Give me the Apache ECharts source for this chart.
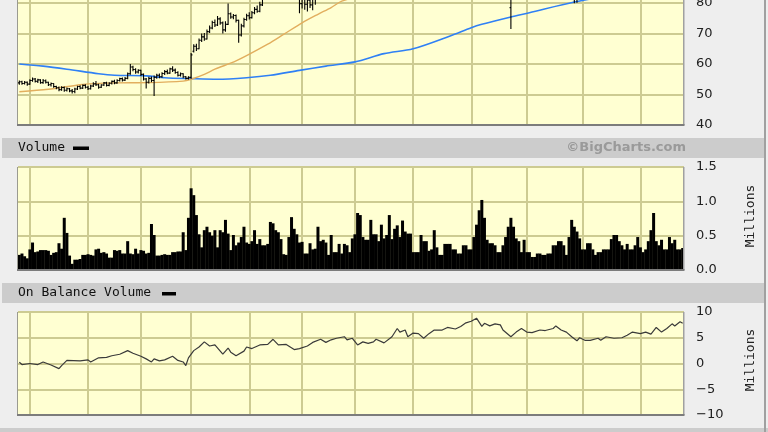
<!DOCTYPE html>
<html><head><meta charset="utf-8">
<script src="https://cdn.jsdelivr.net/npm/echarts@6/dist/echarts.min.js"></script>
<style>html,body{margin:0;padding:0;background:#eeeeee;overflow:hidden;width:768px;height:432px}#c{position:absolute;left:0;top:-100px;width:768px;height:532px}</style>
</head><body><div id="c"></div>
<script>
// ---- data ----
var dayCount = 252;
var monthStarts = [4, 26, 46, 65, 87, 107, 127, 149, 171, 192, 213, 235];
var priceTicks = [40, 50, 60, 70, 80, 90, 100, 110];
var volumeTicks = [0, 0.5, 1.0, 1.5];
var obvTicks = [-10, -5, 0, 5, 10];
// daily bars: [open, close, low, high]
var ohlc = [
[53.8,54.2,53.2,54.6],[54.2,53.6,53.2,54.5],[53.6,54.0,53.3,54.4],[54.0,53.4,52.9,54.3],[53.4,54.6,53.2,55.0],
[54.6,55.1,54.2,55.6],[55.1,54.3,53.9,55.4],[54.3,54.8,53.8,55.2],[54.8,53.9,53.5,55.0],[53.9,54.5,53.5,55.1],
[54.5,54.0,53.6,54.9],[54.0,53.2,52.8,54.2],[53.2,53.6,52.6,53.9],[53.6,52.6,52.2,53.7],[52.6,52.2,51.7,52.9],
[52.2,51.6,51.1,52.6],[51.6,52.3,51.2,52.7],[52.3,51.4,50.9,52.6],[51.4,51.9,51.0,52.3],[51.9,51.2,50.7,52.1],
[51.2,51.0,50.3,51.8],[51.0,51.8,50.4,52.2],[51.8,52.6,51.5,52.9],[52.6,52.1,51.7,53.0],[52.1,53.0,51.8,53.3],
[53.0,52.4,52.0,53.4],[52.4,51.9,51.5,52.8],[51.9,52.8,51.6,53.2],[52.8,53.5,52.5,54.0],[53.5,53.2,52.8,54.4],
[53.2,52.4,51.9,53.5],[52.4,53.1,52.1,53.4],[53.1,53.8,52.8,54.1],[53.8,53.0,52.6,54.2],[53.0,53.7,52.7,54.0],
[53.7,54.3,53.3,54.6],[54.3,53.8,53.4,54.8],[53.8,54.6,53.5,55.0],[54.6,55.2,54.3,55.5],[55.2,54.7,54.3,55.6],
[54.7,55.3,54.4,55.7],[55.3,56.8,55.0,57.2],[56.8,59.0,56.5,60.0],[59.0,58.2,57.6,59.4],[58.2,57.4,56.8,58.6],
[57.4,57.9,56.9,58.3],[57.9,56.6,56.1,58.1],[56.6,55.1,54.6,56.9],[55.1,54.0,52.0,55.4],[54.0,55.3,53.6,55.8],
[55.3,54.6,54.0,55.9],[54.6,55.6,49.5,56.2],[55.6,56.3,55.2,56.8],[56.3,55.8,55.3,56.9],[55.8,56.9,55.5,57.3],
[56.9,57.5,56.4,58.0],[57.5,57.0,56.6,58.2],[57.0,58.4,56.8,58.8],[58.4,58.0,57.4,59.3],[58.0,57.2,56.8,58.5],
[57.2,56.3,55.9,57.6],[56.3,56.8,55.9,57.2],[56.8,55.8,55.3,57.0],[55.8,55.3,54.9,56.1],[55.3,55.6,54.9,56.0],
[55.6,63.0,55.2,63.6],[64.2,65.8,63.8,66.5],[65.8,65.0,64.3,66.6],[65.0,67.8,64.8,68.4],[67.8,68.9,67.2,70.0],
[68.9,68.2,67.6,70.2],[68.2,70.6,68.0,71.3],[70.6,71.8,70.2,72.6],[71.8,73.6,71.4,74.2],[73.6,72.8,72.1,74.6],
[72.8,74.8,72.5,75.7],[74.8,73.5,72.9,75.3],[73.5,71.2,70.0,73.9],[71.2,73.0,70.6,74.0],[73.0,76.5,72.8,79.8],
[76.5,75.4,74.8,76.9],[75.4,75.9,74.7,76.4],[75.9,74.3,73.6,76.2],[74.3,69.5,67.0,74.5],[69.5,72.5,69.0,73.2],
[72.5,74.6,72.0,75.2],[74.6,75.8,74.2,76.5],[75.8,75.2,74.6,77.0],[75.2,76.8,74.9,77.4],[76.8,77.9,76.3,78.7],
[77.9,77.3,76.8,79.2],[77.3,79.4,77.0,80.4],[79.4,81.5,79.0,82.6],[81.5,83.0,81.2,83.8],[83.0,84.6,82.5,85.3],
[84.6,85.8,84.0,86.7],[85.8,88.2,85.4,89.0],[88.2,86.9,86.2,89.1],[86.9,88.4,86.5,89.3],[88.4,87.5,86.9,88.9],
[87.5,86.2,85.6,88.0],[86.2,85.0,84.3,86.5],[85.0,83.6,82.9,85.4],[83.6,81.8,81.3,84.2],[81.8,84.9,81.4,85.6],
[84.9,82.6,81.6,85.2],[82.6,79.8,76.6,83.0],[79.8,81.5,78.2,82.4],[81.5,79.6,77.8,82.0],[79.6,80.9,77.2,81.8],
[80.9,79.4,78.4,81.6],[79.4,81.2,77.6,82.0],[81.2,82.8,79.4,83.5],[82.8,83.9,82.2,84.4],[83.9,85.0,83.5,85.6],
[85.0,84.4,83.9,85.5],[84.4,85.8,84.1,86.3],[85.8,85.2,84.7,86.2],[85.2,86.6,84.9,87.2],[86.6,86.0,85.5,86.9],
[86.0,87.1,85.7,87.6],[87.1,87.9,86.8,88.5],[87.9,87.3,86.9,88.3],[87.3,88.4,87.0,88.9],[88.4,87.9,87.4,88.8],
[87.9,89.0,87.6,89.5],[89.0,88.4,88.0,89.4],[88.4,89.7,88.1,90.3],[89.7,87.6,87.0,90.1],[87.6,88.5,87.2,89.0],
[88.5,87.8,87.3,88.9],[87.8,88.9,87.5,89.4],[88.9,88.3,87.9,89.3],[88.3,89.6,88.0,90.1],[89.6,90.3,89.2,90.9],
[90.3,89.7,89.2,90.6],[89.7,90.8,89.4,91.3],[90.8,91.9,90.5,92.4],[91.9,91.2,90.7,92.2],[91.2,92.4,90.9,92.9],
[92.4,93.8,92.1,94.5],[93.8,93.1,92.6,94.2],[93.1,94.3,92.8,94.9],[94.3,95.2,93.9,95.9],[95.2,94.0,93.5,95.5],
[94.0,94.9,93.6,95.4],[94.9,93.7,93.2,95.1],[93.7,92.6,92.0,94.0],[92.6,93.5,92.2,94.0],[93.5,94.1,93.1,94.6],
[94.1,93.6,93.1,94.5],[93.6,92.9,92.4,93.9],[92.9,93.7,92.6,94.2],[93.7,92.6,92.1,94.0],[92.6,93.3,92.2,93.8],
[93.3,94.1,93.0,94.6],[94.1,94.8,93.8,95.3],[94.8,95.5,94.4,96.1],[95.5,94.9,94.4,95.8],[94.9,95.4,94.6,95.9],
[95.4,95.9,95.0,96.4],[95.9,95.2,94.8,96.2],[95.2,95.9,94.9,96.3],[95.9,95.4,95.0,96.2],[95.4,96.1,95.1,96.6],
[96.1,95.5,95.1,96.4],[95.5,96.2,95.2,96.7],[96.2,96.8,95.9,97.3],[96.8,96.2,95.8,97.1],[96.2,97.0,95.9,97.5],
[97.0,97.4,96.6,97.9],[97.4,97.9,97.0,98.4],[97.9,97.2,96.8,98.2],[97.2,98.0,96.9,98.6],[98.0,98.6,97.6,99.3],
[98.6,94.5,93.6,98.8],[94.5,95.6,94.0,96.2],[95.6,94.8,94.3,95.9],[94.8,95.4,94.4,95.9],[95.4,94.6,94.1,95.6],
[94.6,95.1,94.2,95.6],[95.1,94.5,94.0,95.4],[94.5,93.7,93.2,94.8],[93.7,92.4,91.9,94.0],[92.4,90.8,90.3,92.7],
[90.8,88.6,88.0,91.1],[78.5,86.2,71.5,87.4],[86.2,87.4,85.6,88.0],[87.4,86.6,86.1,87.9],[86.6,87.5,86.2,88.0],
[87.5,88.1,87.1,88.6],[88.1,87.4,87.0,88.5],[87.4,88.2,87.1,88.7],[88.2,88.8,87.8,89.3],[88.8,88.3,87.9,89.2],
[88.3,88.9,88.0,89.4],[88.9,89.4,88.5,89.9],[89.4,88.8,88.4,89.7],[88.8,89.3,88.5,89.8],[89.3,88.6,88.2,89.6],
[88.6,89.2,88.3,89.7],[89.2,88.5,88.1,89.5],[88.5,87.9,87.4,88.8],[87.9,87.1,86.6,88.2],[87.1,86.2,85.7,87.4],
[86.2,85.4,84.9,86.6],[85.4,85.9,85.0,86.4],[85.9,85.1,84.6,86.2],[85.1,84.3,83.8,85.5],[84.3,83.2,82.0,84.6],
[83.2,82.6,79.9,83.8],[82.6,82.9,80.1,83.5],[82.9,83.8,82.4,84.3],[83.8,84.5,83.4,85.0],[84.5,84.0,83.6,84.9],
[84.0,84.8,83.7,85.3],[84.8,84.3,83.9,85.2],[84.3,84.9,84.0,85.4],[84.9,85.4,84.6,85.9],[85.4,85.0,84.6,85.8],
[85.0,85.6,84.7,86.1],[85.6,85.2,84.8,86.0],[85.2,85.9,84.9,86.4],[85.9,86.4,85.6,86.9],[86.4,87.3,86.1,87.9],
[87.3,88.0,87.0,88.6],[88.0,87.4,86.9,88.3],[87.4,86.9,86.5,87.8],[86.9,87.5,86.6,88.0],[87.5,88.2,87.2,88.7],
[88.2,87.7,87.3,88.6],[87.7,88.3,87.4,88.8],[88.3,88.9,88.0,89.4],[88.9,88.4,88.0,89.3],[88.4,89.2,88.1,89.7],
[89.2,88.7,88.3,89.6],[88.7,89.3,88.4,89.8],[89.3,88.8,88.4,89.7],[88.8,89.6,88.5,90.1],[89.6,90.5,89.3,91.1],
[90.5,91.8,90.2,92.6],[91.8,91.0,90.5,92.1],[91.0,91.6,90.7,92.1],[91.6,92.3,91.3,92.8],[92.3,91.7,91.3,92.6],
[91.7,92.4,91.4,92.9],[92.4,93.1,92.1,93.6],[93.1,92.5,92.1,93.4],[92.5,93.2,92.2,93.7],[93.2,93.8,92.9,94.3],
[93.8,93.1,92.7,94.1],[93.1,93.6,92.8,94.1]
];
// moving averages: [day, value]
var maLong = [[0,60],[9,59.3],[18,58.3],[30,56.8],[36,56.3],[48,56.1],[55,55.5],[65,55.2],[75,55.0],[86,55.5],[95,56.3],[106,57.9],[116,59.3],[127,60.7],[138,63.4],[149,65.0],[163,69.2],[171,71.9],[175,73.0],[186,75.4],[193,76.8],[210,80.3],[230,83.5],[251,86.5]];
var maShort = [[0,50.9],[11,51.7],[24,53.3],[36,53.8],[49,53.9],[62,54.4],[65,55.0],[70,56.6],[74,58.3],[82,61.0],[94,66.5],[100,69.7],[107,73.5],[113,76.3],[118,78.5],[122,80.6],[135,84.0],[150,87.5],[170,90.5],[190,91.5],[210,90.0],[230,88.5],[251,89.5]];
// volume, millions
var volume = [
0.22,0.24,0.20,0.17,0.30,0.40,0.26,0.27,0.29,0.29,0.29,0.28,0.22,0.25,0.26,0.39,0.31,0.76,0.54,0.21,
0.09,0.15,0.15,0.16,0.22,0.22,0.23,0.22,0.21,0.30,0.31,0.25,0.26,0.24,0.18,0.18,0.29,0.28,0.29,0.24,
0.24,0.42,0.24,0.23,0.31,0.24,0.29,0.28,0.24,0.25,0.67,0.51,0.21,0.21,0.22,0.23,0.22,0.22,0.26,0.26,
0.27,0.27,0.55,0.29,0.76,1.19,1.09,0.80,0.52,0.33,0.58,0.63,0.55,0.50,0.58,0.33,0.58,0.55,0.73,0.53,
0.29,0.51,0.36,0.40,0.48,0.63,0.40,0.38,0.42,0.58,0.38,0.45,0.36,0.36,0.38,0.70,0.68,0.58,0.55,0.45,
0.23,0.22,0.48,0.77,0.60,0.52,0.40,0.41,0.24,0.24,0.39,0.30,0.31,0.63,0.42,0.44,0.40,0.22,0.51,0.26,
0.26,0.38,0.24,0.38,0.36,0.26,0.46,0.52,0.83,0.80,0.48,0.44,0.44,0.73,0.52,0.52,0.42,0.66,0.46,0.51,
0.80,0.45,0.60,0.65,0.48,0.72,0.56,0.53,0.53,0.26,0.26,0.26,0.51,0.42,0.42,0.28,0.30,0.58,0.33,0.22,
0.22,0.38,0.38,0.38,0.30,0.30,0.24,0.24,0.36,0.36,0.30,0.30,0.48,0.66,0.87,1.02,0.76,0.44,0.39,0.39,
0.36,0.26,0.26,0.36,0.48,0.63,0.76,0.63,0.46,0.42,0.26,0.44,0.26,0.26,0.19,0.19,0.24,0.24,0.22,0.22,
0.24,0.24,0.36,0.36,0.42,0.42,0.36,0.22,0.48,0.73,0.63,0.56,0.46,0.30,0.30,0.39,0.39,0.30,0.22,0.26,
0.26,0.30,0.30,0.30,0.45,0.51,0.51,0.42,0.36,0.30,0.38,0.30,0.30,0.36,0.48,0.33,0.26,0.30,0.42,0.58,
0.83,0.42,0.36,0.44,0.30,0.30,0.48,0.39,0.44,0.30,0.30,0.32
];
// on balance volume, millions: [day, value]
var obv = [[0,0.25],[1,-0.2],[4,0],[7,-0.2],[9,0.3],[12,-0.3],[15,-1.0],[16,-0.4],[18,0.6],[23,0.5],[26,0.7],[27,0.3],[30,1.1],[33,1.2],[35,1.5],[38,1.8],[41,2.5],[43,2.0],[46,1.4],[48,0.9],[50,0.3],[51,0.9],[53,0.5],[55,0.7],[58,1.4],[60,0.6],[62,0.3],[63,-0.4],[64,1.1],[66,2.5],[68,3.2],[70,4.2],[72,3.4],[74,3.6],[77,1.8],[79,3.0],[80,2.2],[82,1.5],[85,2.4],[86,3.2],[88,2.9],[91,3.6],[94,3.7],[96,4.7],[98,3.6],[101,3.7],[104,2.7],[106,2.9],[109,3.4],[111,4.1],[114,4.7],[116,4.1],[118,4.6],[120,4.9],[123,5.2],[124,4.6],[126,4.9],[128,3.6],[130,4.2],[132,3.9],[134,4.2],[135,4.7],[138,4.0],[141,5.2],[143,6.8],[144,6.1],[146,6.5],[147,5.2],[149,5.9],[151,5.8],[153,4.9],[155,5.8],[157,6.5],[160,6.5],[162,7.0],[165,6.7],[167,7.2],[169,7.9],[171,8.2],[173,8.8],[175,7.2],[176,7.8],[178,7.3],[180,7.7],[182,7.5],[183,6.5],[186,5.2],[188,6.1],[190,6.8],[192,6.1],[194,6.0],[197,6.5],[199,6.4],[202,6.8],[203,7.3],[205,6.5],[207,6.1],[209,5.2],[211,4.4],[212,5.0],[214,4.5],[216,4.5],[219,4.9],[220,4.5],[222,5.2],[225,4.9],[228,5.0],[230,5.5],[232,6.1],[235,5.8],[237,6.1],[239,5.7],[241,7.0],[243,6.1],[245,6.8],[247,7.7],[248,7.3],[250,8.1],[251,7.8]];

// ---- chart ----
var OFF = 100; // canvas is taller and shifted up so the price panel top sits above the window
var days = [];
for (var i = 0; i < dayCount; i++) days.push('D' + i);
var ohlcData = ohlc.map(function (r, i) { return [i, r[0], r[1], r[2], r[3]]; });

var gridBg = '#ffffd2';
var gridColor = '#cdcb92';
var labelFont = { fontFamily: 'DejaVu Sans', fontSize: 13, color: '#222', margin: 12 };
function xAxisFor(gi) {
  return {
    type: 'category', gridIndex: gi, data: days, boundaryGap: true,
    axisLabel: { show: false }, axisTick: { show: false },
    axisLine: { show: false }, splitLine: { show: false }
  };
}
function yAxisFor(gi, ticks, fmt) {
  return {
    type: 'value', gridIndex: gi, position: 'right',
    min: ticks[0], max: ticks[ticks.length - 1], interval: ticks[1] - ticks[0],
    axisLabel: Object.assign({ formatter: fmt }, labelFont),
    axisTick: { show: false }, axisLine: { show: false }, splitLine: { show: false }
  };
}
// grid lines drawn through the axes' own scales (month boundaries + value ticks)
function gridLinesSeries(gi, ticks, hostData) {
  var lines = ticks.slice(1).map(function (v) { return { yAxis: v }; })
    .concat(monthStarts.map(function (m) { return { xAxis: m - 0.5 }; }));
  return {
    type: 'line', xAxisIndex: gi, yAxisIndex: gi, data: hostData, z: 1, silent: true,
    symbol: 'none', lineStyle: { opacity: 0 },
    markLine: { silent: true, symbol: 'none', animation: false, label: { show: false },
      lineStyle: { color: gridColor, width: 2, type: 'solid', opacity: 1 }, emphasis: { disabled: true }, data: lines }
  };
}
var priceBottom = 125, unitPx = 30.5;
var priceTop = priceBottom - (priceTicks.length - 1) * unitPx;
var panels = [
  { top: OFF + priceTop, height: priceBottom - priceTop },
  { top: OFF + 167, height: 103 },
  { top: OFF + 312, height: 103 }
];
var plotLeft = 18, plotWidth = 666;
var monoFont = '13px "DejaVu Sans Mono"';

var graphics = [
  { type: 'rect', shape: { x: 2, y: OFF + 138, width: 762, height: 20 }, style: { fill: '#cccccc' }, z: -10 },
  { type: 'rect', shape: { x: 2, y: OFF + 283, width: 762, height: 20 }, style: { fill: '#cccccc' }, z: -10 },
  { type: 'rect', shape: { x: 0, y: OFF + 428, width: 768, height: 4 }, style: { fill: '#cccccc' }, z: -10 },
  { type: 'rect', shape: { x: 764, y: 0, width: 2, height: OFF + 432 }, style: { fill: '#a0a0a0' }, z: -10 },
  { type: 'text', x: 18, y: OFF + 148, style: { text: 'Volume', font: monoFont, fill: '#111', textVerticalAlign: 'middle' } },
  { type: 'rect', shape: { x: 73, y: OFF + 146.5, width: 16, height: 3.5 }, style: { fill: '#000' } },
  { type: 'text', x: 686, y: OFF + 148, style: { text: '\u00a9BigCharts.com', font: 'bold 13px "DejaVu Sans"', fill: '#9a9a9a', textAlign: 'right', textVerticalAlign: 'middle' } },
  { type: 'text', x: 18, y: OFF + 293, style: { text: 'On Balance Volume', font: monoFont, fill: '#111', textVerticalAlign: 'middle' } },
  { type: 'rect', shape: { x: 162, y: OFF + 292, width: 14, height: 3.5 }, style: { fill: '#000' } },
  { type: 'text', x: 751, y: OFF + 216, rotation: Math.PI / 2, style: { text: 'Millions', font: monoFont, fill: '#222', textAlign: 'center', textVerticalAlign: 'middle' } },
  { type: 'text', x: 751, y: OFF + 360, rotation: Math.PI / 2, style: { text: 'Millions', font: monoFont, fill: '#222', textAlign: 'center', textVerticalAlign: 'middle' } }
];
panels.forEach(function (p) {
  // plot background and frame (left/top light, bottom/right darker)
  graphics.push({ type: 'rect', z: -10, shape: { x: plotLeft, y: p.top, width: plotWidth, height: p.height }, style: { fill: gridBg } });
  graphics.push({ type: 'rect', z: 50, shape: { x: plotLeft - 1, y: p.top, width: 1, height: p.height + 1 }, style: { fill: '#9a9a90' } });
  graphics.push({ type: 'rect', z: 50, shape: { x: plotLeft + plotWidth - 1, y: p.top, width: 1.5, height: p.height }, style: { fill: '#a0a0a0' } });
  graphics.push({ type: 'rect', z: 50, shape: { x: plotLeft - 1, y: p.top + p.height - 1, width: plotWidth + 1.5, height: 2 }, style: { fill: '#7c7c7c' } });
});

var chart = echarts.init(document.getElementById('c'), null, { renderer: 'canvas' });
chart.setOption({
  animation: false,
  backgroundColor: '#eeeeee',
  grid: panels.map(function (p) { return { left: plotLeft, width: plotWidth, top: p.top, height: p.height, show: false }; }),
  xAxis: [xAxisFor(0), xAxisFor(1), xAxisFor(2)],
  yAxis: [
    yAxisFor(0, priceTicks, function (v) { return String(v); }),
    yAxisFor(1, volumeTicks, function (v) { return v.toFixed(1); }),
    yAxisFor(2, obvTicks, function (v) { return v < 0 ? '\u2212' + Math.abs(v) : String(v); })
  ],
  graphic: graphics,
  series: [
    gridLinesSeries(0, priceTicks, maLong),
    gridLinesSeries(1, volumeTicks, obv.map(function (p) { return [p[0], 0.1]; })),
    gridLinesSeries(2, obvTicks, obv),
    {
      type: 'line', xAxisIndex: 0, yAxisIndex: 0, data: maLong, symbol: 'none', smooth: 0.3,
      lineStyle: { color: '#2f80f5', width: 1.6 }, z: 10
    },
    {
      type: 'line', xAxisIndex: 0, yAxisIndex: 0, data: maShort, symbol: 'none', smooth: 0.3,
      lineStyle: { color: '#e2ae5e', width: 1.4 }, z: 10
    },
    {
      type: 'custom', xAxisIndex: 0, yAxisIndex: 0, data: ohlcData, clip: true, z: 11,
      encode: { x: 0, y: [1, 2, 3, 4] },
      renderItem: function (params, api) {
        var x = api.value(0);
        var o = api.coord([x, api.value(1)]);
        var c = api.coord([x, api.value(2)]);
        var l = api.coord([x, api.value(3)]);
        var h = api.coord([x, api.value(4)]);
        var half = api.size([1, 0])[0] * 0.5;
        var st = { stroke: '#000', lineWidth: 1.1 };
        return { type: 'group', children: [
          { type: 'line', shape: { x1: l[0], y1: l[1], x2: h[0], y2: h[1] }, style: st },
          { type: 'line', shape: { x1: o[0] - half, y1: o[1], x2: o[0], y2: o[1] }, style: st },
          { type: 'line', shape: { x1: c[0], y1: c[1], x2: c[0] + half, y2: c[1] }, style: st }
        ]};
      }
    },
    {
      type: 'bar', xAxisIndex: 1, yAxisIndex: 1, data: volume, barWidth: 3,
      itemStyle: { color: '#000' }, z: 10
    },
    {
      type: 'line', xAxisIndex: 2, yAxisIndex: 2, data: obv, symbol: 'none',
      lineStyle: { color: '#3a3a3a', width: 1.2 }, z: 10
    }
  ]
});
</script>
</body></html>
